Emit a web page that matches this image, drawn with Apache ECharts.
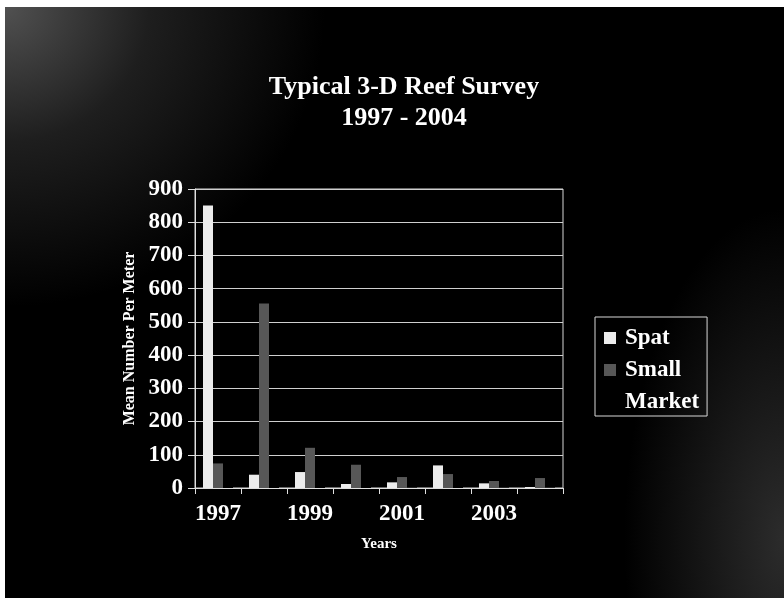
<!DOCTYPE html>
<html>
<head>
<meta charset="utf-8">
<script src="https://cdn.jsdelivr.net/npm/echarts@6/dist/echarts.min.js"></script>
<style>
html, body { margin: 0; padding: 0; background: #ffffff; width: 784px; height: 598px; overflow: hidden; }
#chart {
  position: absolute; left: 5px; top: 7px; width: 779px; height: 591px;
  background:
    radial-gradient(ellipse 320px 300px at 0 0, rgba(95,95,95,0.85) 0%, rgba(60,60,60,0.5) 45%, rgba(0,0,0,0) 100%),
    radial-gradient(ellipse 160px 330px at 100% 90%, rgba(80,80,80,0.55) 0%, rgba(0,0,0,0) 100%),
    #000000;
}
</style>
</head>
<body>
<div id="chart"></div>
<script>
// Data
var years  = ['1997', '1998', '1999', '2000', '2001', '2002', '2003', '2004'];
var spat   = [850, 40, 48, 12, 17, 68, 14, 3];
var small  = [74, 555, 121, 70, 33, 42, 21, 30];
var market = [6, 4, 3, 3, 2, 3, 2, 2];
var yTicks = { min: 0, max: 900, step: 100 };

var serif = 'Liberation Serif, Times New Roman, serif';

var chart = echarts.init(document.getElementById('chart'), null, { renderer: 'canvas' });

chart.setOption({
  backgroundColor: 'transparent',
  animation: false,
  title: {
    text: 'Typical 3-D Reef Survey\n1997 - 2004',
    left: 394,
    top: 60,
    textAlign: 'center',
    textStyle: {
      color: '#ffffff',
      fontFamily: serif,
      fontWeight: 'bold',
      fontSize: 26,
      lineHeight: 31
    }
  },
  legend: {
    data: ['Spat', 'Small', 'Market'],
    orient: 'vertical',
    left: 590,
    top: 310,
    padding: [9, 8, 2, 9],
    itemGap: 8,
    itemWidth: 12,
    itemHeight: 12,
    icon: 'rect',
    borderColor: '#d8d8d8',
    borderWidth: 1,
    textStyle: {
      color: '#ffffff',
      fontFamily: serif,
      fontWeight: 'bold',
      fontSize: 23,
      lineHeight: 24,
      padding: [0, 0, 0, 4]
    }
  },
  grid: {
    left: 190,
    top: 182,
    right: 221,
    bottom: 110,
    show: true,
    borderColor: '#d6d6d6',
    borderWidth: 1,
    backgroundColor: 'transparent',
    containLabel: false
  },
  xAxis: {
    type: 'category',
    data: years,
    name: 'Years',
    nameLocation: 'middle',
    nameGap: 49,
    nameTextStyle: { color: '#ffffff', fontFamily: serif, fontWeight: 'bold', fontSize: 15 },
    axisLine: { show: true, lineStyle: { color: '#e0e0e0', width: 1 } },
    axisTick: { show: true, interval: 0, length: 6, lineStyle: { color: '#e0e0e0' } },
    axisLabel: {
      interval: 1,
      margin: 15,
      color: '#ffffff',
      fontFamily: serif,
      fontWeight: 'bold',
      fontSize: 23
    },
    splitLine: { show: false }
  },
  yAxis: {
    type: 'value',
    min: yTicks.min,
    max: yTicks.max,
    interval: yTicks.step,
    name: 'Mean Number Per Meter',
    nameLocation: 'middle',
    nameRotate: 90,
    nameGap: 57,
    nameTextStyle: { color: '#ffffff', fontFamily: serif, fontWeight: 'bold', fontSize: 16 },
    axisLine: { show: true, lineStyle: { color: '#e0e0e0', width: 1 } },
    axisTick: { show: true, length: 7, lineStyle: { color: '#e0e0e0' } },
    axisLabel: {
      margin: 12,
      color: '#ffffff',
      fontFamily: serif,
      fontWeight: 'bold',
      fontSize: 23
    },
    splitLine: { show: true, lineStyle: { color: '#cfcfcf', width: 1 } }
  },
  series: [
    {
      name: 'Spat',
      type: 'bar',
      data: spat,
      barWidth: 10,
      barGap: '0%',
      itemStyle: { color: '#ececec' }
    },
    {
      name: 'Small',
      type: 'bar',
      data: small,
      barWidth: 10,
      barGap: '0%',
      itemStyle: { color: '#575757' }
    },
    {
      name: 'Market',
      type: 'bar',
      data: market,
      barWidth: 10,
      barGap: '0%',
      itemStyle: { color: '#000000' }
    }
  ]
});
</script>
</body>
</html>
